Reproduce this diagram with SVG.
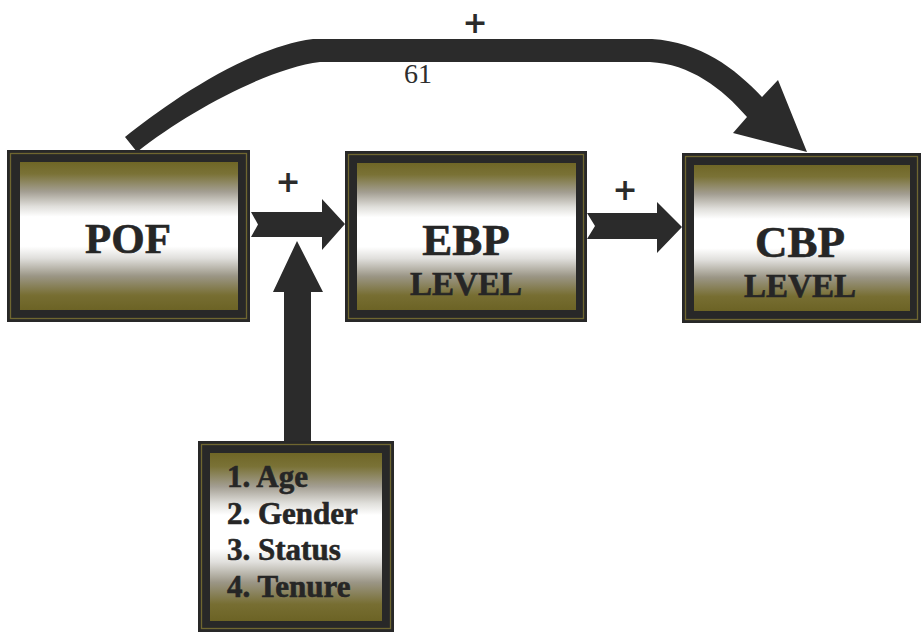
<svg xmlns="http://www.w3.org/2000/svg" width="923" height="634" viewBox="0 0 923 634">
<style>
.frame{fill:#282828}
.line{fill:none;stroke:#6f6630;stroke-width:1.3}
.inner{fill:url(#g)}
.arrow{fill:#2b2b2b}
.t{font-family:"Liberation Serif","Times New Roman",serif;font-weight:bold;fill:#262626;stroke:#262626;stroke-width:0.6}
.n{font-family:"Liberation Serif","Times New Roman",serif;font-size:28px;fill:#2e2e2e;text-anchor:middle}
.plus{font-family:"DejaVu Sans",sans-serif;font-weight:bold;font-size:30px;fill:#2b2b2b;text-anchor:middle}
</style>
<defs>
<linearGradient id="g" x1="0" y1="0" x2="0" y2="1">
<stop offset="0" stop-color="#6f6626"/>
<stop offset="0.08" stop-color="#7a7236"/>
<stop offset="0.2" stop-color="#a39e92"/>
<stop offset="0.3" stop-color="#e0dfdb"/>
<stop offset="0.37" stop-color="#ffffff"/>
<stop offset="0.57" stop-color="#ffffff"/>
<stop offset="0.65" stop-color="#e0dfdc"/>
<stop offset="0.77" stop-color="#9b9686"/>
<stop offset="0.9" stop-color="#776e32"/>
<stop offset="1" stop-color="#6c6325"/>
</linearGradient>
</defs>
<rect width="923" height="634" fill="#ffffff"/>
<g id="connectors">
<path class="arrow" d="M125,137 C165,105 245,48 313,39 L652,39 C700,42 735,68 762,97 L778,80 L807,152 L733,133 L747,117 C722,88 690,64 650,62 L320,62 C270,68 190,110 137,152 Z"/>
<path class="arrow" d="M251,212 L322,212 L322,199 L345,224 L322,250 L322,237 L251,237 L258,224.5 Z"/>
<path class="arrow" d="M587,213 L657,213 L657,202 L682,227 L657,253 L657,239 L587,239 L595,226 Z"/>
<path class="arrow" d="M284,441 L284,292 L273,292 L297,241 L323,292 L311,292 L311,441 Z"/>
<text class="plus" x="475" y="33">+</text>
<text class="plus" x="288" y="192">+</text>
<text class="plus" x="625" y="200">+</text>
<text class="n" x="418" y="83">61</text>
</g>
<g id="pof">
<rect class="frame" x="7" y="150" width="243" height="172"/>
<rect class="line" x="10.5" y="153.5" width="236" height="165"/>
<rect class="inner" x="20" y="162" width="218" height="148"/>
<text class="t" x="128" y="253" font-size="43" text-anchor="middle">POF</text>
</g>
<g id="ebp">
<rect class="frame" x="345" y="151" width="242" height="171"/>
<rect class="line" x="348.5" y="154.5" width="235" height="164"/>
<rect class="inner" x="357" y="163" width="219" height="147"/>
<text class="t" x="466" y="255" font-size="45" text-anchor="middle">EBP</text>
<text class="t" x="466" y="295" font-size="33" text-anchor="middle">LEVEL</text>
</g>
<g id="cbp">
<rect class="frame" x="682" y="153" width="239" height="170"/>
<rect class="line" x="685.5" y="156.5" width="232" height="163"/>
<rect class="inner" x="694" y="165" width="216" height="146"/>
<text class="t" x="800" y="257" font-size="45" text-anchor="middle">CBP</text>
<text class="t" x="800" y="297" font-size="33" text-anchor="middle">LEVEL</text>
</g>
<g id="factors">
<rect class="frame" x="198" y="441" width="196" height="191"/>
<rect class="line" x="201.5" y="444.5" width="189" height="184"/>
<rect class="inner" x="210" y="453" width="172" height="168"/>
<text class="t" x="227" y="487" font-size="31">1. Age</text>
<text class="t" x="227" y="524" font-size="31">2. Gender</text>
<text class="t" x="227" y="560" font-size="31">3. Status</text>
<text class="t" x="227" y="597" font-size="31">4. Tenure</text>
</g>
</svg>
